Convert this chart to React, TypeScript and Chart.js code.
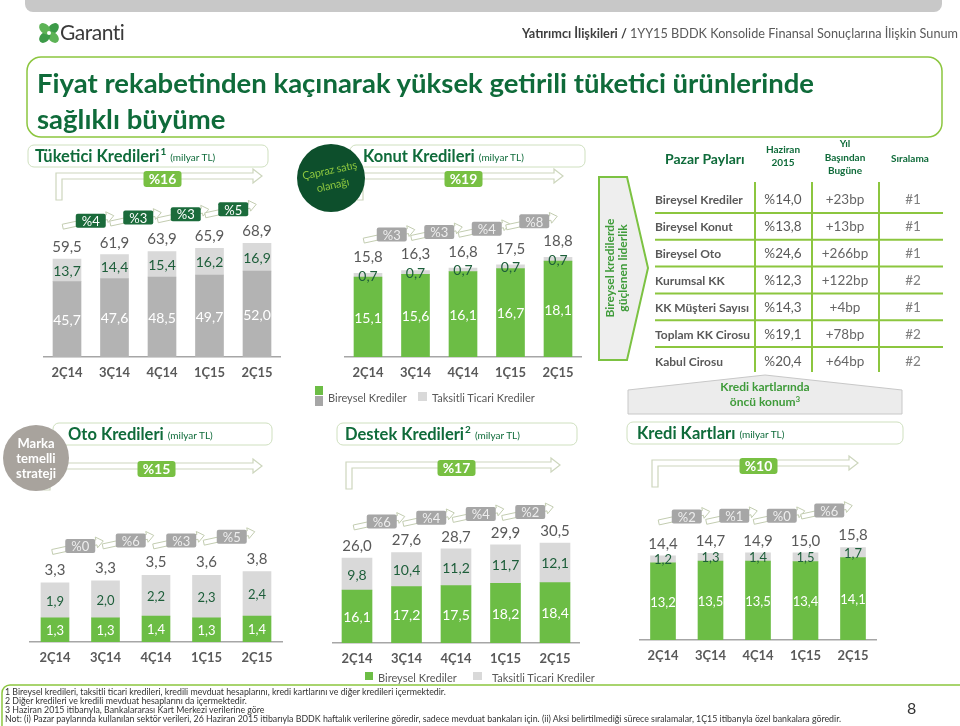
import React, { useEffect, useRef } from 'react';
import { Chart, registerables } from 'chart.js';
Chart.register(...registerables);

const FONT = 'Lato, "Open Sans", sans-serif';
const DG = '#0f6b3a';
const LG = '#8cc63f';

const quarters = ['2Ç14', '3Ç14', '4Ç14', '1Ç15', '2Ç15'];

const tuketiciBireysel = [45.7, 47.6, 48.5, 49.7, 52.0];
const tuketiciTicari = [13.7, 14.4, 15.4, 16.2, 16.9];
const tuketiciToplam = [59.5, 61.9, 63.9, 65.9, 68.9];
const tuketiciCeyrek = ['%4', '%3', '%3', '%5'];
const tuketiciYillik = '%16';

const konutBireysel = [15.1, 15.6, 16.1, 16.7, 18.1];
const konutTicari = [0.7, 0.7, 0.7, 0.7, 0.7];
const konutToplam = [15.8, 16.3, 16.8, 17.5, 18.8];
const konutCeyrek = ['%3', '%3', '%4', '%8'];
const konutYillik = '%19';

const otoBireysel = [1.3, 1.3, 1.4, 1.3, 1.4];
const otoTicari = [1.9, 2.0, 2.2, 2.3, 2.4];
const otoToplam = [3.3, 3.3, 3.5, 3.6, 3.8];
const otoCeyrek = ['%0', '%6', '%3', '%5'];
const otoYillik = '%15';

const destekBireysel = [16.1, 17.2, 17.5, 18.2, 18.4];
const destekTicari = [9.8, 10.4, 11.2, 11.7, 12.1];
const destekToplam = [26.0, 27.6, 28.7, 29.9, 30.5];
const destekCeyrek = ['%6', '%4', '%4', '%2'];
const destekYillik = '%17';

const kartBireysel = [13.2, 13.5, 13.5, 13.4, 14.1];
const kartTicari = [1.2, 1.3, 1.4, 1.5, 1.7];
const kartToplam = [14.4, 14.7, 14.9, 15.0, 15.8];
const kartCeyrek = ['%2', '%1', '%0', '%6'];
const kartYillik = '%10';

const payKalemleri = ['Bireysel Krediler', 'Bireysel Konut', 'Bireysel Oto', 'Kurumsal KK', 'KK Müşteri Sayısı', 'Toplam KK Cirosu', 'Kabul Cirosu'];
const payHaziran = ['%14,0', '%13,8', '%24,6', '%12,3', '%14,3', '%19,1', '%20,4'];
const payYBB = ['+23bp', '+13bp', '+266bp', '+122bp', '+4bp', '+78bp', '+64bp'];
const paySira = ['#1', '#1', '#1', '#2', '#1', '#2', '#2'];

const footnotes = [
  '1 Bireysel kredileri, taksitli ticari kredileri, kredili mevduat hesaplarını, kredi kartlarını ve diğer kredileri içermektedir.',
  '2 Diğer kredileri ve kredili mevduat hesaplarını da içermektedir.',
  '3 Haziran 2015 itibarıyla, Bankalararası Kart Merkezi verilerine göre',
  'Not: (i) Pazar paylarında kullanılan sektör verileri, 26 Haziran 2015 itibarıyla BDDK haftalık verilerine göredir, sadece mevduat bankaları için. (ii) Aksi belirtilmediği sürece sıralamalar, 1Ç15 itibarıyla özel bankalara göredir.',
];

const fmt = (v: number) => v.toFixed(1).replace('.', ',');

function roundRect(ctx: any, x: number, y: number, w: number, h: number, r: number) {
  ctx.beginPath();
  ctx.moveTo(x + r, y);
  ctx.lineTo(x + w - r, y);
  ctx.quadraticCurveTo(x + w, y, x + w, y + r);
  ctx.lineTo(x + w, y + h - r);
  ctx.quadraticCurveTo(x + w, y + h, x + w - r, y + h);
  ctx.lineTo(x + r, y + h);
  ctx.quadraticCurveTo(x, y + h, x, y + h - r);
  ctx.lineTo(x, y + r);
  ctx.quadraticCurveTo(x, y, x + r, y);
  ctx.closePath();
}

function drawArrow(ctx: any, x0: number, y0: number, x1: number, y1: number, sh: number, hh: number, hl: number, stroke: string) {
  const dx = x1 - x0, dy = y1 - y0;
  const len = Math.sqrt(dx * dx + dy * dy);
  const ux = dx / len, uy = dy / len;
  const nx = -uy, ny = ux;
  const bx = x1 - ux * hl, by = y1 - uy * hl;
  ctx.beginPath();
  ctx.moveTo(x0 + nx * sh, y0 + ny * sh);
  ctx.lineTo(bx + nx * sh, by + ny * sh);
  ctx.lineTo(bx + nx * hh, by + ny * hh);
  ctx.lineTo(x1, y1);
  ctx.lineTo(bx - nx * hh, by - ny * hh);
  ctx.lineTo(bx - nx * sh, by - ny * sh);
  ctx.lineTo(x0 - nx * sh, y0 - ny * sh);
  ctx.closePath();
  ctx.fillStyle = '#ffffff';
  ctx.fill();
  ctx.strokeStyle = stroke;
  ctx.lineWidth = 1;
  ctx.stroke();
}

const decoPlugin = {
  id: 'deco',
  afterDatasetsDraw(chart: any, _args: any, o: any) {
    const ctx = chart.ctx;
    const low = chart.getDatasetMeta(0).data;
    const up = chart.getDatasetMeta(1).data;
    const lowVals = chart.data.datasets[0].data;
    const upVals = chart.data.datasets[1].data;
    ctx.save();
    ctx.textAlign = 'center';
    ctx.textBaseline = 'middle';
    low.forEach((b: any, i: number) => {
      const u = up[i];
      ctx.font = `${o.labelSize}px ${FONT}`;
      ctx.fillStyle = '#ffffff';
      ctx.fillText(fmt(lowVals[i]), b.x, (b.y + b.base) / 2 + 1);
      ctx.fillStyle = '#1d5e3a';
      ctx.fillText(fmt(upVals[i]), u.x, (u.y + u.base) / 2 + 1);
      ctx.font = `15px ${FONT}`;
      ctx.fillStyle = '#595959';
      ctx.fillText(fmt(o.totals[i]), u.x, u.y - o.totalGap);
    });
    for (let i = 0; i < up.length - 1; i++) {
      const cx = (up[i].x + up[i + 1].x) / 2;
      const cy = up[i + 1].y - o.growthGap;
      drawArrow(ctx, cx - 28, cy + 6, cx + 23, cy - 5, 2.5, 5.5, 7, '#c2ccb0');
      roundRect(ctx, cx - 15, cy - 7, 30, 14, 2);
      ctx.fillStyle = o.growthFill;
      ctx.fill();
      ctx.fillStyle = o.growthText;
      ctx.font = `13px ${FONT}`;
      ctx.fillText(o.growth[i], cx, cy + 1);
    }
    const bx0 = up[0].x - 8;
    const bx1 = up[up.length - 1].x + 5;
    const by = o.bigY;
    const s = 3, hh = 7, hl = 9;
    ctx.beginPath();
    ctx.moveTo(bx0 - s, by + 24);
    ctx.lineTo(bx0 - s, by - s);
    ctx.lineTo(bx1 - hl, by - s);
    ctx.lineTo(bx1 - hl, by - hh);
    ctx.lineTo(bx1, by);
    ctx.lineTo(bx1 - hl, by + hh);
    ctx.lineTo(bx1 - hl, by + s);
    ctx.lineTo(bx0 + s, by + s);
    ctx.lineTo(bx0 + s, by + 24);
    ctx.closePath();
    ctx.fillStyle = '#ffffff';
    ctx.fill();
    ctx.strokeStyle = '#cdd6bd';
    ctx.lineWidth = 1.2;
    ctx.stroke();
    const mx = (bx0 + bx1) / 2 + 2;
    roundRect(ctx, mx - 19, by - 5, 38, 16, 3);
    ctx.fillStyle = '#78c043';
    ctx.fill();
    ctx.fillStyle = '#ffffff';
    ctx.font = `bold 14px ${FONT}`;
    ctx.fillText(o.overall, mx, by + 3.5);
    ctx.restore();
  },
};

type Cfg = {
  lower: number[]; upper: number[]; totals: number[]; growth: string[]; overall: string;
  areaLeft: number; step: number; axisY: number; top: number; ppu: number; barW: number;
  lowerColor: string; upperColor: string; growthFill: string; growthText: string;
  totalGap: number; growthGap: number; bigY: number; labelSize: number;
};

function StackChart({ cfg }: { cfg: Cfg }) {
  const ref = useRef<HTMLCanvasElement>(null);
  const cl = Math.floor(cfg.areaLeft - 22);
  const areaRight = cfg.areaLeft + cfg.step * quarters.length;
  const cw = Math.ceil(areaRight + 22) - cl;
  const ch = cfg.axisY + 24 - cfg.top;
  const padTop = 60;
  useEffect(() => {
    const chart = new Chart(ref.current as HTMLCanvasElement, {
      type: 'bar',
      data: {
        labels: quarters,
        datasets: [
          { data: cfg.lower, backgroundColor: cfg.lowerColor, barThickness: cfg.barW, stack: 's' },
          { data: cfg.upper, backgroundColor: cfg.upperColor, barThickness: cfg.barW, stack: 's' },
        ],
      },
      options: {
        animation: false,
        responsive: false,
        maintainAspectRatio: false,
        layout: { padding: { left: cfg.areaLeft - cl, right: cl + cw - areaRight, top: padTop, bottom: 0 } },
        plugins: {
          legend: { display: false },
          tooltip: { enabled: false },
          deco: {
            totals: cfg.totals, growth: cfg.growth, overall: cfg.overall,
            growthFill: cfg.growthFill, growthText: cfg.growthText,
            totalGap: cfg.totalGap, growthGap: cfg.growthGap,
            bigY: cfg.bigY - cfg.top, labelSize: cfg.labelSize,
          },
        } as any,
        scales: {
          x: {
            stacked: true,
            grid: { display: false, drawTicks: false },
            border: { display: true, color: '#a6a6a6', width: 1.5 },
            ticks: { color: '#595959', padding: 8, font: { family: FONT, size: 13, weight: 'bold' } },
            afterFit: (s: any) => { s.height = 24; },
          },
          y: { stacked: true, display: false, min: 0, max: (ch - 24 - padTop) / cfg.ppu },
        },
      },
      plugins: [decoPlugin],
    });
    return () => chart.destroy();
  }, []);
  return (
    <canvas ref={ref} width={cw} height={ch}
      style={{ position: 'absolute', left: cl, top: cfg.top, width: cw, height: ch }} />
  );
}

const GREEN = '#6cbd45';
const LIGHT = '#d9d9d9';

const charts: Cfg[] = [
  { lower: tuketiciBireysel, upper: tuketiciTicari, totals: tuketiciToplam, growth: tuketiciCeyrek, overall: tuketiciYillik,
    areaLeft: 43.25, step: 47.5, axisY: 357, top: 160, ppu: 1.65, barW: 28,
    lowerColor: '#b3b3b3', upperColor: LIGHT, growthFill: '#1b6b3b', growthText: '#ffffff',
    totalGap: 12, growthGap: 34, bigY: 176, labelSize: 14 },
  { lower: konutBireysel, upper: konutTicari, totals: konutToplam, growth: konutCeyrek, overall: konutYillik,
    areaLeft: 344.25, step: 47.5, axisY: 357, top: 160, ppu: 5.3, barW: 28,
    lowerColor: GREEN, upperColor: LIGHT, growthFill: '#a6a6a6', growthText: '#ededed',
    totalGap: 16, growthGap: 36, bigY: 176, labelSize: 14 },
  { lower: otoBireysel, upper: otoTicari, totals: otoToplam, growth: otoCeyrek, overall: otoYillik,
    areaLeft: 29.75, step: 50.5, axisY: 642, top: 450, ppu: 18.5, barW: 28,
    lowerColor: GREEN, upperColor: LIGHT, growthFill: '#a6a6a6', growthText: '#ededed',
    totalGap: 13, growthGap: 35, bigY: 466, labelSize: 13 },
  { lower: destekBireysel, upper: destekTicari, totals: destekToplam, growth: destekCeyrek, overall: destekYillik,
    areaLeft: 332.25, step: 49.5, axisY: 643, top: 450, ppu: 3.28, barW: 30,
    lowerColor: GREEN, upperColor: LIGHT, growthFill: '#a6a6a6', growthText: '#ededed',
    totalGap: 12, growthGap: 31, bigY: 465, labelSize: 14 },
  { lower: kartBireysel, upper: kartTicari, totals: kartToplam, growth: kartCeyrek, overall: kartYillik,
    areaLeft: 639.25, step: 47.5, axisY: 640, top: 448, ppu: 5.85, barW: 25,
    lowerColor: GREEN, upperColor: LIGHT, growthFill: '#a6a6a6', growthText: '#ededed',
    totalGap: 12, growthGap: 37, bigY: 463, labelSize: 13 },
];

const abs = (s: any): any => ({ position: 'absolute', whiteSpace: 'nowrap', ...s });

function ChartTitle({ left, top, pad, main, sup }: any) {
  return (
    <div style={abs({ left: left + pad, top, height: 22, display: 'flex', alignItems: 'center', color: DG })}>
      <span style={{ fontWeight: 700, fontSize: 16.5 }}>{main}</span>
      {sup ? <span style={{ fontWeight: 700, fontSize: 10, position: 'relative', top: -5, marginLeft: 1 }}>{sup}</span> : null}
      <span style={{ fontSize: 10, marginLeft: 4, position: 'relative', top: 1 }}>(milyar TL)</span>
    </div>
  );
}

const titleBoxes = [
  { left: 28, top: 145, width: 240, pad: 7, main: 'Tüketici Kredileri', sup: '1' },
  { left: 350, top: 145, width: 235, pad: 13, main: 'Konut Kredileri', sup: '' },
  { left: 53, top: 423, width: 219, pad: 15, main: 'Oto Kredileri', sup: '' },
  { left: 337, top: 423, width: 240, pad: 8, main: 'Destek Kredileri', sup: '2' },
  { left: 627, top: 422, width: 276, pad: 10, main: 'Kredi Kartları', sup: '' },
];

export default function App() {
  const rowY = (i: number) => 199 + 27 * i;
  return (
    <div style={{ position: 'absolute', left: 0, top: 0, width: 960, height: 726, background: '#fff', overflow: 'hidden', fontFamily: FONT }}>
      <svg width={960} height={726} style={{ position: 'absolute', left: 0, top: 0 }}>
        <rect x={25} y={-10} width={917} height={22} rx={8} fill="#c8c8c8" />
        <rect x={27} y={57} width={915} height={80} rx={14} fill="#fff" stroke={LG} strokeWidth={1.5} />
        <rect x={2} y={685} width={970} height={60} rx={8} fill="#fff" stroke={LG} strokeWidth={1.5} />
        {titleBoxes.map((t, i) => (
          <rect key={i} x={t.left} y={t.top} width={t.width} height={22} rx={6} fill="#fff" stroke="#cfe0bf" strokeWidth={1} />
        ))}
        <g transform="translate(49,33)">
          {[0, 90, 180, 270].map((a) => (
            <ellipse key={a} cx={0} cy={-6} rx={4.6} ry={6.5} fill={a % 180 === 0 ? '#3c9a48' : '#5db356'} transform={`rotate(${a + 45})`} />
          ))}
          <circle cx={0} cy={0} r={2} fill="#fff" />
        </g>
        <polygon points="599,177 627,177 648,268 627,360 599,360" fill="#eeeeee" stroke="#7cc242" strokeWidth={2} />
        <polygon points="628,390 765,375 902,390 902,414 628,414" fill="#ececec" stroke="#c8c8c8" strokeWidth={1} />
        {[0, 1, 2, 3, 4, 5].map((i) => (
          <line key={i} x1={655} x2={943} y1={213 + 26.8 * i} y2={213 + 26.8 * i} stroke={LG} strokeWidth={2} />
        ))}
        {[755, 812, 879].map((x) => (
          <line key={x} x1={x} x2={x} y1={182} y2={372} stroke={LG} strokeWidth={2} />
        ))}
        <rect x={315} y={386} width={8} height={9} fill={GREEN} />
        <rect x={315} y={396} width={8} height={10} fill="#a6a6a6" />
        <rect x={418} y={392} width={9} height={9} fill={LIGHT} />
        <rect x={365} y={672} width={8} height={8} fill={GREEN} />
        <rect x={473} y={672} width={9} height={8} fill={LIGHT} />
      </svg>

      {charts.map((c, i) => <StackChart key={i} cfg={c} />)}

      <svg width={960} height={726} style={{ position: 'absolute', left: 0, top: 0 }}>
        <circle cx={331} cy={178} r={34} fill="#0d4f2c" />
        <circle cx={36} cy={458} r={33} fill="#a8a39d" />
      </svg>

      <div style={abs({ left: 60, top: 19, fontSize: 21, color: '#3a3a3a', letterSpacing: -0.5 })}>Garanti</div>
      <div style={abs({ right: 2, top: 25, fontSize: 12.7, color: '#5a5a5a' })}>
        <span style={{ fontWeight: 700, color: '#3f3f3f' }}>Yatırımcı İlişkileri / </span>1YY15 BDDK Konsolide Finansal Sonuçlarına İlişkin Sunum
      </div>
      <div style={abs({ left: 37, top: 65, fontSize: 27.5, lineHeight: '36px', fontWeight: 700, color: DG })}>
        Fiyat rekabetinden kaçınarak yüksek getirili tüketici ürünlerinde<br />sağlıklı büyüme
      </div>

      {titleBoxes.map((t, i) => <ChartTitle key={i} {...t} />)}

      <div style={abs({ left: 331, top: 177, transform: 'translate(-50%,-50%) rotate(-12deg)', color: LG, fontSize: 11, lineHeight: '15px', textAlign: 'center', letterSpacing: -0.2 })}>
        Çapraz satış<br />olanağı
      </div>
      <div style={abs({ left: 36, top: 458, transform: 'translate(-50%,-50%)', color: '#fff', fontSize: 13, fontWeight: 700, lineHeight: '15px', textAlign: 'center' })}>
        Marka<br />temelli<br />strateji
      </div>

      <div style={abs({ left: 665, top: 150, fontSize: 14, fontWeight: 700, color: DG })}>Pazar Payları</div>
      <div style={abs({ left: 783, top: 156, transform: 'translate(-50%,-50%)', fontSize: 10, fontWeight: 700, color: DG, textAlign: 'center', lineHeight: '13px' })}>Haziran<br />2015</div>
      <div style={abs({ left: 845, top: 157, transform: 'translate(-50%,-50%)', fontSize: 10, fontWeight: 700, color: DG, textAlign: 'center', lineHeight: '13.5px' })}>Yıl<br />Başından<br />Bugüne</div>
      <div style={abs({ left: 910, top: 158, transform: 'translate(-50%,-50%)', fontSize: 10, fontWeight: 700, color: DG })}>Sıralama</div>
      {payKalemleri.map((k, i) => (
        <React.Fragment key={k}>
          <div style={abs({ left: 655, top: rowY(i), transform: 'translateY(-50%)', fontSize: 12, fontWeight: 700, color: '#595959' })}>{k}</div>
          <div style={abs({ left: 783, top: rowY(i), transform: 'translate(-50%,-50%)', fontSize: 13.5, color: '#595959' })}>{payHaziran[i]}</div>
          <div style={abs({ left: 845, top: rowY(i), transform: 'translate(-50%,-50%)', fontSize: 13.5, color: '#666' })}>{payYBB[i]}</div>
          <div style={abs({ left: 913, top: rowY(i), transform: 'translate(-50%,-50%)', fontSize: 13.5, color: '#7f7f7f' })}>{paySira[i]}</div>
        </React.Fragment>
      ))}
      <div style={abs({ left: 616, top: 268, transform: 'translate(-50%,-50%) rotate(-90deg)', fontSize: 12, fontWeight: 700, color: '#3f9b3a', textAlign: 'center', lineHeight: '13px' })}>
        Bireysel kredilerde<br />güçlenen liderlik
      </div>
      <div style={abs({ left: 765, top: 395, transform: 'translate(-50%,-50%)', fontSize: 12, fontWeight: 700, color: '#3f9b3a', textAlign: 'center', lineHeight: '15px' })}>
        Kredi kartlarında<br />öncü konum<span style={{ fontSize: 8, position: 'relative', top: -4 }}>3</span>
      </div>

      <div style={abs({ left: 328, top: 397, transform: 'translateY(-50%)', fontSize: 11, color: '#595959' })}>Bireysel Krediler</div>
      <div style={abs({ left: 432, top: 397, transform: 'translateY(-50%)', fontSize: 11, color: '#595959' })}>Taksitli Ticari Krediler</div>
      <div style={abs({ left: 378, top: 677, transform: 'translateY(-50%)', fontSize: 11, color: '#595959' })}>Bireysel Krediler</div>
      <div style={abs({ left: 492, top: 677, transform: 'translateY(-50%)', fontSize: 11, color: '#595959' })}>Taksitli Ticari Krediler</div>

      <div style={abs({ left: 5, top: 686.5, fontSize: 8.8, lineHeight: '9px', color: '#333' })}>
        {footnotes.map((f, i) => <div key={i}>{f}</div>)}
      </div>
      <div style={abs({ left: 907, top: 698, fontSize: 16, color: '#333' })}>8</div>
    </div>
  );
}
